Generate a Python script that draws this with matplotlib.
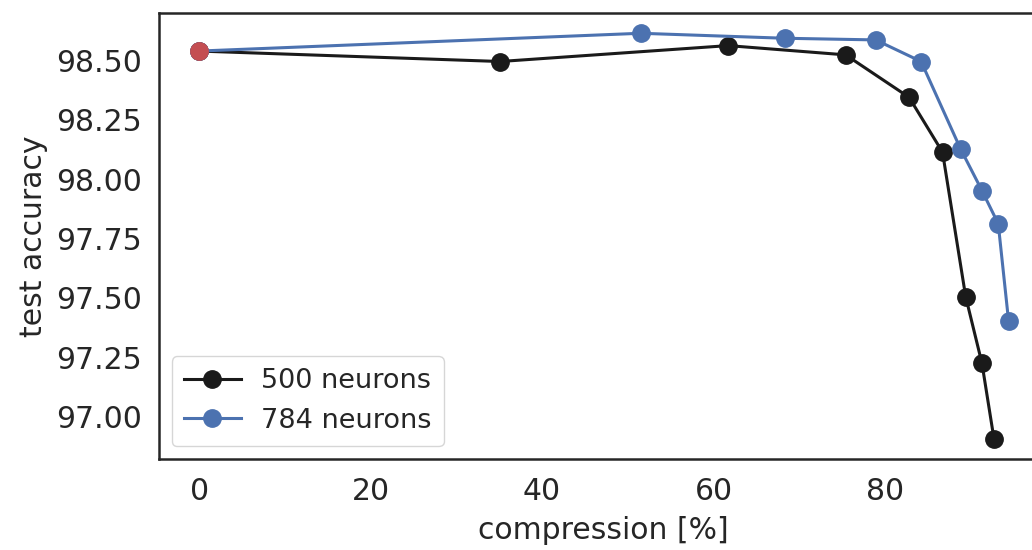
import matplotlib
matplotlib.use("Agg")
import matplotlib.pyplot as plt

# data
x_500 = [0, 35.1, 61.7, 75.4, 82.8, 86.7, 89.4, 91.3, 92.7]
y_500 = [98.54, 98.496, 98.563, 98.524, 98.345, 98.114, 97.505, 97.224, 96.906]
x_784 = [0, 51.5, 68.3, 78.9, 84.2, 88.8, 91.3, 93.2, 94.4]
y_784 = [98.54, 98.615, 98.594, 98.587, 98.496, 98.128, 97.952, 97.812, 97.404]
x_base = [0]
y_base = [98.54]
labels = ["500 neurons", "784 neurons"]

TXT = "#262626"
plt.rcParams['font.family'] = ['DejaVu Sans']

fig = plt.figure(figsize=(10.32, 5.5), dpi=100)
W, H = 1032, 550
left, right, top, bottom = 158.7, 1049, 13, 459
aw, ah = right - left, bottom - top
ax = fig.add_axes([left / W, (H - bottom) / H, aw / W, ah / H])

ax.plot(x_500, y_500, '-o', color='#1a1a1a', lw=2.2, ms=12.5, label=labels[0], zorder=3)
ax.plot(x_784, y_784, '-o', color='#4C72B0', lw=2.2, ms=12.5, label=labels[1], zorder=3)
ax.plot(x_base, y_base, 'o', color='#C44E52', ms=12.5, zorder=4)

ax.set_xticks([0, 20, 40, 60, 80])
ax.set_yticks([97.0, 97.25, 97.5, 97.75, 98.0, 98.25, 98.5])
ax.yaxis.set_major_formatter(matplotlib.ticker.FormatStrFormatter('%.2f'))
ax.tick_params(axis='both', length=0, labelsize=21.5, colors=TXT)
ax.tick_params(axis='x', pad=13)
ax.tick_params(axis='y', pad=12)
ax.set_xlabel("compression [%]", fontsize=21.5, color=TXT, labelpad=7)
ax.set_ylabel("test accuracy", fontsize=21.5, color=TXT, labelpad=6)
for s in ax.spines.values():
    s.set_color(TXT)
    s.set_linewidth(1.8)

leg = ax.legend(loc='lower left', fontsize=19.5, frameon=True, fancybox=True,
                borderpad=0.45, handlelength=2.1, labelspacing=0.5, handletextpad=0.75,
                borderaxespad=0, bbox_to_anchor=(13 / aw, 13 / ah))
leg.get_frame().set_edgecolor('#cccccc')
for t in leg.get_texts():
    t.set_color(TXT)

fig.savefig("out.png", dpi=100)
